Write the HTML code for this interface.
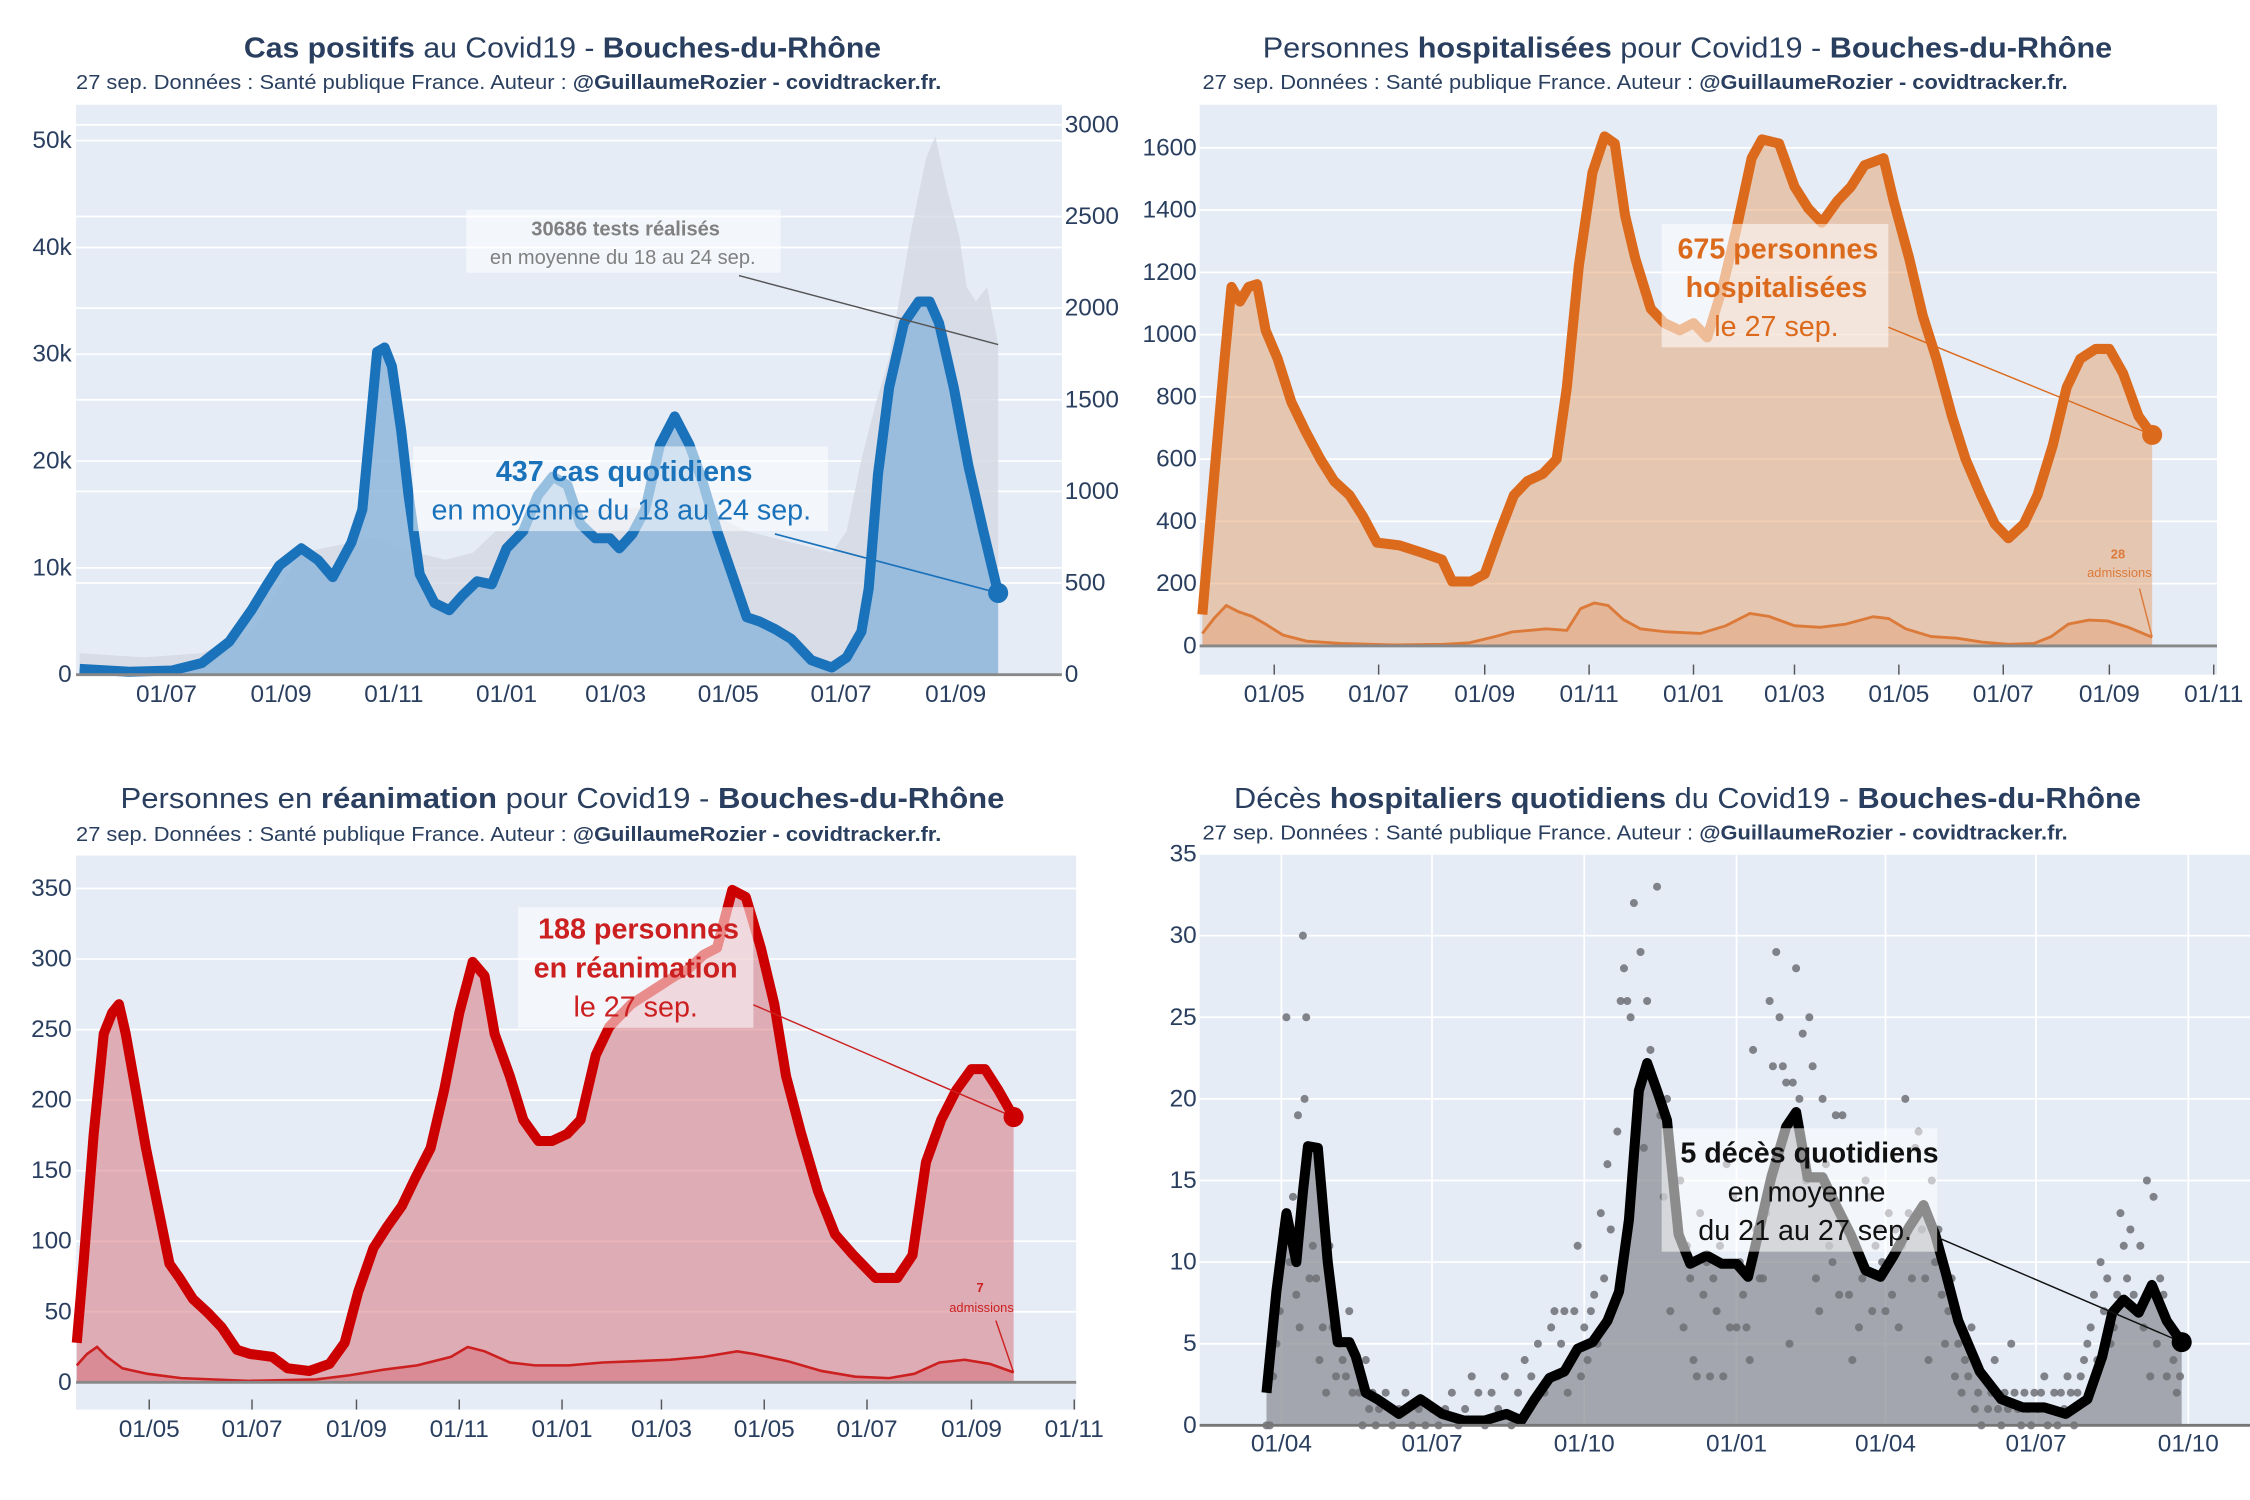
<!DOCTYPE html>
<html><head><meta charset="utf-8"><style>
html,body{margin:0;padding:0;background:#fff;}
svg{display:block;font-family:"Liberation Sans","DejaVu Sans",sans-serif;}
</style></head><body>
<svg id="root" xmlns="http://www.w3.org/2000/svg" width="2250" height="1500" viewBox="0 0 1568 1045" preserveAspectRatio="none">
<g id="layer"></g>
</svg>
<script>
// ---------- DATA (day numbers = days since 2020-03-01) ----------
const casDays=[75,102,125,141,156,168,176,183,195,204,212,222,228,232,236,240,244,249,253,259,267,275,282,290,298,306,315,323,331,339,346,354,362,367,374,381,389,397,405,412,420,428,436,443,451,460,471,482,490,498,502,507,513,521,529,535,540,548,556,564,572];
const casVals=[31,16,23,63,180,352,485,595,689,626,532,720,900,1331,1762,1785,1683,1331,979,548,391,352,431,509,493,689,783,979,1081,1034,822,744,744,689,767,900,1253,1409,1253,1057,783,548,313,290,250,196,78,39,94,235,470,1096,1566,1918,2036,2036,1918,1566,1135,783,446];
const testDays=[75,110,141,168,195,234,257,273,288,300,311,327,342,366,389,405,420,436,451,467,482,490,498,506,513,525,533,538,544,551,555,560,566,572];
const testVals=[2016,1613,2016,4032,11424,12768,11424,10752,11424,13440,13440,15456,15456,15456,15859,15456,14784,13440,12768,12096,11424,13440,20160,25536,29568,41664,48384,50400,45696,40992,36288,34944,36288,30912];
const leftTicks1=[0,10000,20000,30000,40000,50000];
const leftLabels1=["0","10k","20k","30k","40k","50k"];
const rightTicks1=[0,500,1000,1500,2000,2500,3000];

const hospDays=[19,26,32,36,41,46,51,56,63,71,79,88,96,105,113,121,134,147,159,165,176,184,193,201,209,218,226,232,239,247,254,260,266,272,281,289,298,306,314,323,331,340,346,356,365,373,381,390,398,406,417,423,432,440,448,457,465,474,482,490,499,507,516,524,532,541,549,557,566,574];
const hospVals=[101,553,922,1153,1106,1153,1162,1014,922,784,692,600,530,484,415,332,323,300,277,207,207,231,369,484,530,553,600,830,1222,1521,1637,1614,1383,1245,1083,1037,1014,1037,991,1153,1337,1567,1627,1614,1475,1406,1360,1429,1475,1544,1567,1429,1245,1060,922,738,600,484,392,346,392,484,645,830,922,954,954,876,738,678];
const hospAdmDays=[19,26,33,40,48,56,66,80,100,130,160,175,190,200,210,220,232,240,248,256,265,275,290,310,325,339,350,365,380,395,411,420,430,445,460,475,490,505,515,525,537,548,560,574];
const hospAdmVals=[40,90,130,110,95,70,35,15,8,3,5,10,30,45,50,55,50,120,138,130,85,55,45,40,65,104,95,65,60,70,94,88,55,30,25,12,5,8,30,70,83,80,60,28];

const reaDays=[18,22,28,34,39,43,47,53,59,66,73,79,87,96,104,113,121,134,143,156,168,177,185,194,202,211,219,228,236,245,253,260,266,275,283,292,300,309,317,326,334,347,360,373,381,390,398,407,415,424,432,439,448,458,468,479,492,505,514,522,531,540,549,557,565,574];
const reaVals=[28,84,176,247,262,268,247,207,166,125,84,74,59,49,39,23,20,18,10,8,13,28,64,95,110,125,145,166,207,262,298,288,247,217,186,171,171,176,186,232,252,268,278,288,293,303,308,349,344,308,268,217,176,135,105,90,74,74,90,156,186,207,222,222,207,188];
const reaAdmDays=[18,24,30,36,45,60,80,120,160,180,200,220,240,250,260,275,290,310,330,350,370,390,410,420,440,460,480,500,515,530,545,560,574];
const reaAdmVals=[12,20,25,18,10,6,3,1,2,5,9,12,18,25,22,14,12,12,14,15,16,18,22,20,15,8,4,3,6,14,16,13,7];

const decDays=[22,28,34,40,44,47,53,59,65,72,76,82,89,102,115,128,141,154,167,176,184,193,202,210,219,228,235,241,247,252,258,264,271,278,288,297,306,313,319,327,336,342,349,358,366,375,384,393,401,410,419,426,432,440,453,466,479,492,505,518,527,533,540,549,557,566,575];
const decVals=[2,8.2,13,10,14.3,17.1,17,10,5.1,5.1,4.2,2,1.6,0.7,1.6,0.7,0.3,0.3,0.7,0.3,1.6,2.9,3.3,4.7,5.1,6.4,8.2,12.6,20.5,22.2,20.5,18.7,11.7,9.9,10.4,9.9,9.9,9.1,11.7,15.2,18.3,19.2,15.2,15.2,13.5,11.7,9.5,9.1,10.4,12.1,13.5,11.7,9.5,6.4,3.3,1.6,1.1,1.1,0.7,1.6,4.2,6.9,7.7,6.9,8.6,6.4,5.1];
const dotDays=[22,24,26,28,30,32,34,36,38,40,41,42,44,45,46,48,50,52,54,56,58,60,62,64,66,68,70,72,74,76,78,80,82,84,86,88,90,94,98,102,106,110,114,118,122,126,130,134,138,142,146,150,154,158,162,166,170,174,178,182,186,190,194,196,198,200,202,204,206,208,210,212,214,216,218,220,222,224,226,228,230,234,236,238,240,242,244,246,248,250,252,254,256,258,260,262,264,266,268,270,272,274,276,278,280,282,284,286,288,290,292,294,296,298,300,302,304,306,308,310,312,314,316,318,320,322,324,326,328,330,332,334,336,338,340,342,344,346,348,350,352,354,356,358,360,362,364,366,368,370,372,374,376,378,380,382,384,386,388,390,392,394,396,398,400,402,404,406,408,410,412,414,416,418,420,422,424,426,428,430,432,434,436,438,440,442,444,446,448,450,452,454,456,458,460,462,464,466,468,470,472,474,476,478,480,482,484,486,488,490,492,494,496,498,500,502,504,506,508,510,512,514,516,518,520,522,524,526,528,530,532,534,536,538,540,542,544,546,548,550,552,554,556,558,560,562,564,566,568,570,572,574];
const dotVals=[0,0,3,5,7,12,25,10,14,8,19,6,30,20,25,9,11,9,4,6,2,11,6,3,5,4,3,7,2,4,2,0,4,1,2,0,1,2,0,1,2,0,1,0,1,0,1,2,0,1,3,2,0,2,1,3,0,2,4,3,5,2,6,7,3,5,7,2,4,7,11,3,6,4,7,8,5,13,9,16,12,18,26,28,26,25,32,20,29,17,26,23,21,33,19,14,20,7,15,12,15,6,11,9,4,3,13,8,10,3,9,7,11,3,16,6,14,6,10,8,6,4,23,12,9,9,13,26,22,29,25,22,21,5,21,28,20,24,15,25,22,9,7,20,16,11,10,19,8,19,12,8,4,11,6,9,15,14,7,11,12,10,7,13,8,12,6,11,20,13,9,17,18,12,9,4,15,10,12,8,5,7,9,3,5,2,4,3,6,1,2,0,3,1,2,4,1,0,2,1,5,2,1,0,2,1,0,2,1,2,3,0,1,2,0,2,1,3,2,0,2,3,4,5,6,8,4,10,7,9,5,6,8,13,11,9,12,8,7,11,6,15,3,14,5,9,8,3,6,4,2,3];

// ---------- helpers ----------
const NS="http://www.w3.org/2000/svg";
const layer=document.getElementById('layer');
function mk(tag,attrs,parent){const e=document.createElementNS(NS,tag);for(const k in attrs)e.setAttribute(k,attrs[k]);(parent||layer).appendChild(e);return e;}
function scaleX(d0,p0,k){return d=>p0+(d-d0)*k;}
function scaleY(y0,v1,y1){return v=>y0-(v/v1)*(y0-y1);}
function lineD(days,vals,X,Y){return days.map((d,i)=>(i?'L':'M')+X(d).toFixed(1)+','+Y(vals[i]).toFixed(1)).join('');}
function areaD(days,vals,X,Y,base){return lineD(days,vals,X,Y)+'L'+X(days[days.length-1]).toFixed(1)+','+base+'L'+X(days[0]).toFixed(1)+','+base+'Z';}
const TC="#2a3f5f";
function tickText(x,y,str,anchor){const t=mk('text',{x:x,y:y,'font-size':17,fill:TC,'text-anchor':anchor,'dominant-baseline':'central'});t.textContent=str;return t;}
function bg(x,y,w,h){return mk('rect',{x:x,y:y,width:w,height:h,fill:'#e5ecf6'});}
function hgrid(x1,x2,y){return mk('line',{x1:x1,x2:x2,y1:y,y2:y,stroke:'#fff','stroke-width':1.2});}
function title(x,y,len,parts){const t=mk('text',{x:x,y:y,'font-size':20,fill:TC,textLength:len,lengthAdjust:'spacingAndGlyphs'});
 parts.forEach(p=>{const s=mk('tspan',{'font-weight':p[1]?'bold':'normal'},t);s.textContent=p[0];});return t;}
function subtitle(x,y){const t=mk('text',{x:x,y:y,'font-size':14,fill:TC,textLength:603,lengthAdjust:'spacingAndGlyphs'});
 const a=mk('tspan',{},t);a.textContent="27 sep. Données : Santé publique France. Auteur : ";
 const b=mk('tspan',{'font-weight':'bold'},t);b.textContent="@GuillaumeRozier - covidtracker.fr.";return t;}
function annBox(x,y,w,h){return mk('rect',{x:x,y:y,width:w,height:h,fill:'rgba(255,255,255,0.55)'});}
function annText(x,y,str,size,color,bold){const t=mk('text',{x:x,y:y,'font-size':size,fill:color,'text-anchor':'middle','font-weight':bold?'bold':'normal'});t.textContent=str;return t;}

// ================= PANEL 1 : cas =================
(function(){
 const X=scaleX(122,116,1.288), YL=scaleY(470,50000,98), YR=scaleY(470,3000,87);
 const b=bg(53,73,687,397);  
 rightTicks1.forEach(v=>{const g=hgrid(53,740,YR(v));  });
 leftTicks1.forEach(v=>{const g=hgrid(53,740,YL(v));  });
 const ta=mk('path',{d:areaD(testDays,testVals,X,YL,470),fill:'#d3d8e2','fill-opacity':0.8});
  
 const ca=mk('path',{d:areaD(casDays,casVals,X,YR,470),fill:'#8fb6da','fill-opacity':0.85});
  
 const cl=mk('path',{d:lineD(casDays,casVals,X,YR),fill:'none',stroke:'#1a72bb','stroke-width':7,'stroke-linejoin':'round'});
  
 const base=mk('line',{x1:53,x2:740,y1:470,y2:470,stroke:'#888','stroke-width':2});
  
 leftTicks1.forEach((v,i)=>{const t=tickText(50,YL(v),leftLabels1[i],'end');  });
 rightTicks1.forEach(v=>{const t=tickText(742,YR(v),String(v),'start');  });
 [122,184,245,306,365,426,487,549].forEach(d=>{const dt=new Date(Date.UTC(2020,2,1+d));const s=('0'+dt.getUTCDate()).slice(-2)+'/'+('0'+(dt.getUTCMonth()+1)).slice(-2);
  const t=tickText(X(d),484,s,'middle');  });
 const lx=casDays[casDays.length-1], ly=casVals[casVals.length-1];
 const b1=annBox(325,146,219,44);  
 const t1=annText(436,164,'30686 tests réalisés',14,'#808080',true);  
 const t2=annText(434,184,'en moyenne du 18 au 24 sep.',14,'#808080',false);  
 const l1=mk('line',{x1:515,y1:192,x2:X(testDays[testDays.length-1]),y2:YL(testVals[testVals.length-1]),stroke:'#555','stroke-width':1});
  
 const b2=annBox(288,311,289,59);  
 const t3=annText(435,335,'437 cas quotidiens',20,'#1a72bb',true);  
 const t4=annText(433,362,'en moyenne du 18 au 24 sep.',20,'#1a72bb',false);  
 const l2=mk('line',{x1:540,y1:372,x2:X(lx),y2:YR(ly),stroke:'#1a72bb','stroke-width':1.2});
  
 const m=mk('circle',{cx:X(lx),cy:YR(ly),r:7,fill:'#1a72bb'});  
 const tt=title(170,40,444,[['Cas positifs',1],[' au Covid19 - ',0],['Bouches-du-Rhône',1]]);  
 const st=subtitle(53,62);  
})();

// ================= PANEL 2 : hospitalisations =================
(function(){
 const X=scaleX(61,888,1.1926), Y=scaleY(450,1600,103);
 const b=bg(836,73,709,397);  
 [0,200,400,600,800,1000,1200,1400,1600].forEach(v=>{const g=hgrid(836,1545,Y(v));  
  const t=tickText(834,Y(v),String(v),'end');  });
 const a=mk('path',{d:areaD(hospDays,hospVals,X,Y,450),fill:'#e5a878','fill-opacity':0.55});
  
 const aa=mk('path',{d:areaD(hospAdmDays,hospAdmVals,X,Y,450),fill:'#e0905a','fill-opacity':0.3});
  
 const al=mk('path',{d:lineD(hospAdmDays,hospAdmVals,X,Y),fill:'none',stroke:'#dc7a3a','stroke-width':2});
  
 const l=mk('path',{d:lineD(hospDays,hospVals,X,Y),fill:'none',stroke:'#dc6a1c','stroke-width':7,'stroke-linejoin':'round'});
  
 const base=mk('line',{x1:836,x2:1545,y1:450,y2:450,stroke:'#888','stroke-width':2});
  
 [61,122,184,245,306,365,426,487,549,610].forEach(d=>{const dt=new Date(Date.UTC(2020,2,1+d));const s=('0'+dt.getUTCDate()).slice(-2)+'/'+('0'+(dt.getUTCMonth()+1)).slice(-2);
  const t=tickText(X(d),484,s,'middle');  
  const k=mk('line',{x1:X(d),x2:X(d),y1:463,y2:470,stroke:'#555','stroke-width':1});  });
 const lx=hospDays[hospDays.length-1], ly=hospVals[hospVals.length-1];
 const bx=annBox(1158,156,158,86);  
 const t1=annText(1239,180,'675 personnes',20,'#dc6a1c',true);  
 const t2=annText(1238,207,'hospitalisées',20,'#dc6a1c',true);  
 const t3=annText(1238,234,'le 27 sep.',20,'#dc6a1c',false);  
 const ar=mk('line',{x1:1316,y1:228,x2:X(lx),y2:Y(ly),stroke:'#dc6a1c','stroke-width':1});
  
 const m=mk('circle',{cx:X(lx),cy:Y(ly),r:7,fill:'#dc6a1c'});  
 const a1=annText(1476,389,'28',9,'#dc7a3a',true);  
 const a2=annText(1477,402,'admissions',9,'#dc7a3a',false);  
 const a3=mk('line',{x1:1491,y1:410,x2:X(lx),y2:Y(hospAdmVals[hospAdmVals.length-1]),stroke:'#dc7a3a','stroke-width':1});
  
 const tt=title(880,40,592,[['Personnes ',0],['hospitalisées',1],[' pour Covid19 - ',0],['Bouches-du-Rhône',1]]);  
 const st=subtitle(838,62);  
})();

// ================= PANEL 3 : réanimation =================
(function(){
 const X=scaleX(61,104,1.1742), Y=scaleY(963,350,619);
 const b=bg(53,596,697,386);  
 [0,50,100,150,200,250,300,350].forEach(v=>{const g=hgrid(53,750,Y(v));  
  const t=tickText(50,Y(v),String(v),'end');  });
 const a=mk('path',{d:areaD(reaDays,reaVals,X,Y,963),fill:'#d9787f','fill-opacity':0.55});
  
 const aa=mk('path',{d:areaD(reaAdmDays,reaAdmVals,X,Y,963),fill:'#d0505a','fill-opacity':0.35});
  
 const al=mk('path',{d:lineD(reaAdmDays,reaAdmVals,X,Y),fill:'none',stroke:'#cc2020','stroke-width':1.8});
  
 const l=mk('path',{d:lineD(reaDays,reaVals,X,Y),fill:'none',stroke:'#cc0000','stroke-width':7,'stroke-linejoin':'round'});
  
 const base=mk('line',{x1:53,x2:750,y1:963,y2:963,stroke:'#888','stroke-width':2});
  
 [61,122,184,245,306,365,426,487,549,610].forEach(d=>{const dt=new Date(Date.UTC(2020,2,1+d));const s=('0'+dt.getUTCDate()).slice(-2)+'/'+('0'+(dt.getUTCMonth()+1)).slice(-2);
  const t=tickText(X(d),996,s,'middle');  
  const k=mk('line',{x1:X(d),x2:X(d),y1:975,y2:982,stroke:'#555','stroke-width':1});  });
 const lx=reaDays[reaDays.length-1], ly=reaVals[reaVals.length-1];
 const bx=annBox(361,632,164,84);  
 const t1=annText(445,654,'188 personnes',20,'#cc2020',true);  
 const t2=annText(443,681,'en réanimation',20,'#cc2020',true);  
 const t3=annText(443,708,'le 27 sep.',20,'#cc2020',false);  
 const ar=mk('line',{x1:525,y1:700,x2:X(lx),y2:Y(ly),stroke:'#cc2020','stroke-width':1});
  
 const m=mk('circle',{cx:X(lx),cy:Y(ly),r:7,fill:'#cc0000'});  
 const a1=annText(683,900,'7',9,'#cc2020',true);  
 const a2=annText(684,914,'admissions',9,'#cc2020',false);  
 const a3=mk('line',{x1:694,y1:920,x2:X(lx),y2:Y(reaAdmVals[reaAdmVals.length-1]),stroke:'#cc2020','stroke-width':1});
  
 const tt=title(84,563,616,[['Personnes en ',0],['réanimation',1],[' pour Covid19 - ',0],['Bouches-du-Rhône',1]]);  
 const st=subtitle(53,586);  
})();

// ================= PANEL 4 : décès =================
(function(){
 const X=scaleX(31,893,1.1533), Y=scaleY(993,35,595);
 const b=bg(836,595,732,398);  
 [0,5,10,15,20,25,30,35].forEach(v=>{const g=hgrid(836,1568,Y(v));  
  const t=tickText(834,Y(v),String(v),'end');  });
 [31,122,214,306,396,487,579].forEach(d=>{const g=mk('line',{x1:X(d),x2:X(d),y1:595,y2:993,stroke:'#fff','stroke-width':1.2});
   
  const dt=new Date(Date.UTC(2020,2,1+d));const s=('0'+dt.getUTCDate()).slice(-2)+'/'+('0'+(dt.getUTCMonth()+1)).slice(-2);
  const t=tickText(X(d),1006,s,'middle');  });
 const a=mk('path',{d:areaD(decDays,decVals,X,Y,993),fill:'#8c8f96','fill-opacity':0.75});
  
 dotDays.forEach((d,i)=>{const c=mk('circle',{cx:X(d),cy:Y(dotVals[i]),r:2.8,fill:'#6e7076','fill-opacity':0.85});
   });
 const l=mk('path',{d:lineD(decDays,decVals,X,Y),fill:'none',stroke:'#000','stroke-width':7,'stroke-linejoin':'round'});
  
 const base=mk('line',{x1:836,x2:1568,y1:993,y2:993,stroke:'#777','stroke-width':2});
  
 const lx=decDays[decDays.length-1], ly=decVals[decVals.length-1];
 const bx=annBox(1158,786,192,86);  
 const t1=annText(1261,810,'5 décès quotidiens',20,'#111',true);  
 const t2=annText(1259,837,'en moyenne',20,'#111',false);  
 const t3=annText(1258,864,'du 21 au 27 sep.',20,'#111',false);  
 const ar=mk('line',{x1:1350,y1:862,x2:X(lx),y2:Y(ly),stroke:'#111','stroke-width':1});
  
 const m=mk('circle',{cx:X(lx),cy:Y(ly),r:7,fill:'#000'});  
 const tt=title(860,563,632,[['Décès ',0],['hospitaliers quotidiens',1],[' du Covid19 - ',0],['Bouches-du-Rhône',1]]);  
 const st=subtitle(838,585);  
})();
</script>
</body></html>
